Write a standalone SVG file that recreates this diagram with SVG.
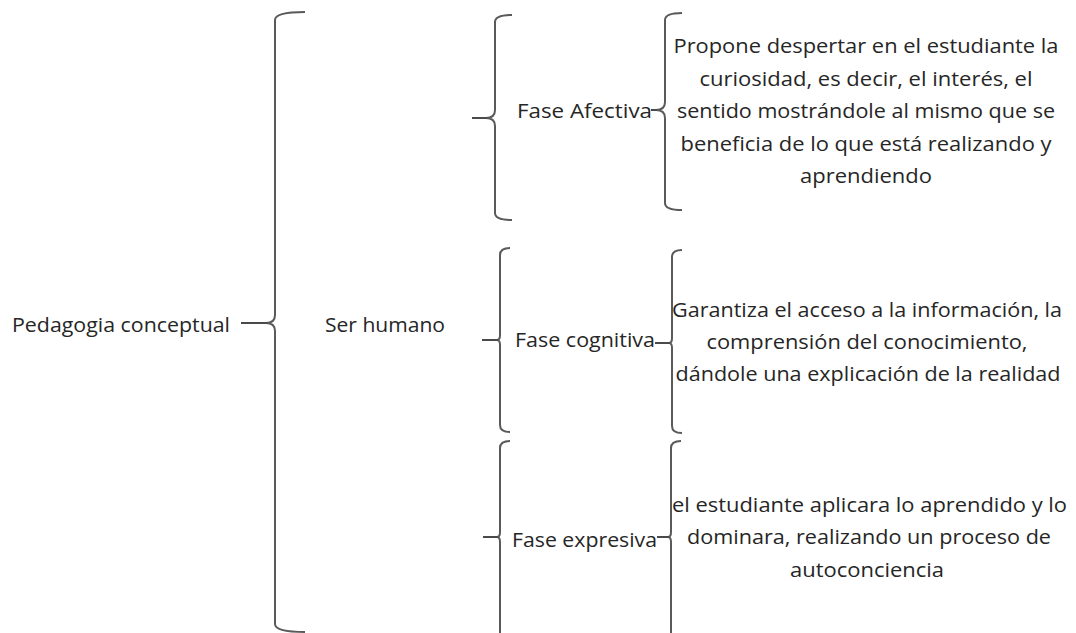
<svg xmlns="http://www.w3.org/2000/svg" width="1076" height="633" viewBox="0 0 1076 633">
<style>
  text { font-family: "Open Sans", "Liberation Sans", sans-serif; font-size: 20px; fill: #262626; }
  .c { text-anchor: middle; }
  .br { fill: none; stroke: #5a5a5a; stroke-width: 2; }
  .ln { stroke: #4a4a4a; stroke-width: 2; }
</style>
<rect width="1076" height="633" fill="#ffffff"/>
<g id="connectors">
  <path class="br" d="M305,12 Q275,12 275,20 V315 Q275,323 266,323 Q275,323 275,331 V624 Q275,632 305,632"/>
  <line class="ln" x1="241" y1="323" x2="267" y2="323"/>
  <path class="br" d="M512,15 Q495,15 495,22 V110 Q495,118 486,118 Q495,118 495,126 V213 Q495,220 512,220"/>
  <line class="ln" x1="472" y1="118" x2="487" y2="118"/>
  <path class="br" d="M682,13 Q665,13 665,20 V102 Q665,110 656,110 Q665,110 665,118 V203 Q665,210 682,210"/>
  <line class="ln" x1="651" y1="110" x2="657" y2="110"/>
  <path class="br" d="M510,248 Q500,248 500,255 V335 Q500,340 497,340 Q500,340 500,345 V425 Q500,432 510,432"/>
  <line class="ln" x1="482" y1="340" x2="498" y2="340"/>
  <path class="br" d="M682,250 Q672,250 672,257 V338 Q672,343 669,343 Q672,343 672,348 V426 Q672,433 682,433"/>
  <line class="ln" x1="655" y1="343" x2="670" y2="343"/>
  <path class="br" d="M510,441 Q500,441 500,448 V532 Q500,537 497,537 Q500,537 500,542 V660"/>
  <line class="ln" x1="483" y1="537" x2="498" y2="537"/>
  <path class="br" d="M681,441 Q671,441 671,448 V532 Q671,537 668,537 Q671,537 671,542 V660"/>
  <line class="ln" x1="657" y1="537" x2="669" y2="537"/>
</g>
<g id="pedagogia"><text x="12" y="332" textLength="218" lengthAdjust="spacingAndGlyphs">Pedagogia conceptual</text></g>
<g id="ser-humano"><text x="325" y="332" textLength="120" lengthAdjust="spacingAndGlyphs">Ser humano</text></g>
<g id="fase-afectiva"><text x="517" y="118" textLength="135" lengthAdjust="spacingAndGlyphs">Fase Afectiva</text></g>
<g id="fase-cognitiva"><text x="515" y="347" textLength="140" lengthAdjust="spacingAndGlyphs">Fase cognitiva</text></g>
<g id="fase-expresiva"><text x="512" y="547" textLength="145" lengthAdjust="spacingAndGlyphs">Fase expresiva</text></g>
<g id="desc-afectiva">
  <text class="c" x="866" y="53" textLength="385" lengthAdjust="spacingAndGlyphs">Propone despertar en el estudiante la</text>
  <text class="c" x="866" y="85.5" textLength="333" lengthAdjust="spacingAndGlyphs">curiosidad, es decir, el interés, el</text>
  <text class="c" x="866" y="118" textLength="378" lengthAdjust="spacingAndGlyphs">sentido mostrándole al mismo que se</text>
  <text class="c" x="866" y="150.5" textLength="371" lengthAdjust="spacingAndGlyphs">beneficia de lo que está realizando y</text>
  <text class="c" x="866" y="183" textLength="132" lengthAdjust="spacingAndGlyphs">aprendiendo</text>
</g>
<g id="desc-cognitiva">
  <text class="c" x="867" y="316.5" textLength="390" lengthAdjust="spacingAndGlyphs">Garantiza el acceso a la información, la</text>
  <text class="c" x="867" y="348.5" textLength="321" lengthAdjust="spacingAndGlyphs">comprensión del conocimiento,</text>
  <text class="c" x="868" y="380.5" textLength="385" lengthAdjust="spacingAndGlyphs">dándole una explicación de la realidad</text>
</g>
<g id="desc-expresiva">
  <text class="c" x="869.5" y="512" textLength="395" lengthAdjust="spacingAndGlyphs">el estudiante aplicara lo aprendido y lo</text>
  <text class="c" x="869" y="544" textLength="364" lengthAdjust="spacingAndGlyphs">dominara, realizando un proceso de</text>
  <text class="c" x="867" y="577" textLength="154" lengthAdjust="spacingAndGlyphs">autoconciencia</text>
</g>
</svg>
